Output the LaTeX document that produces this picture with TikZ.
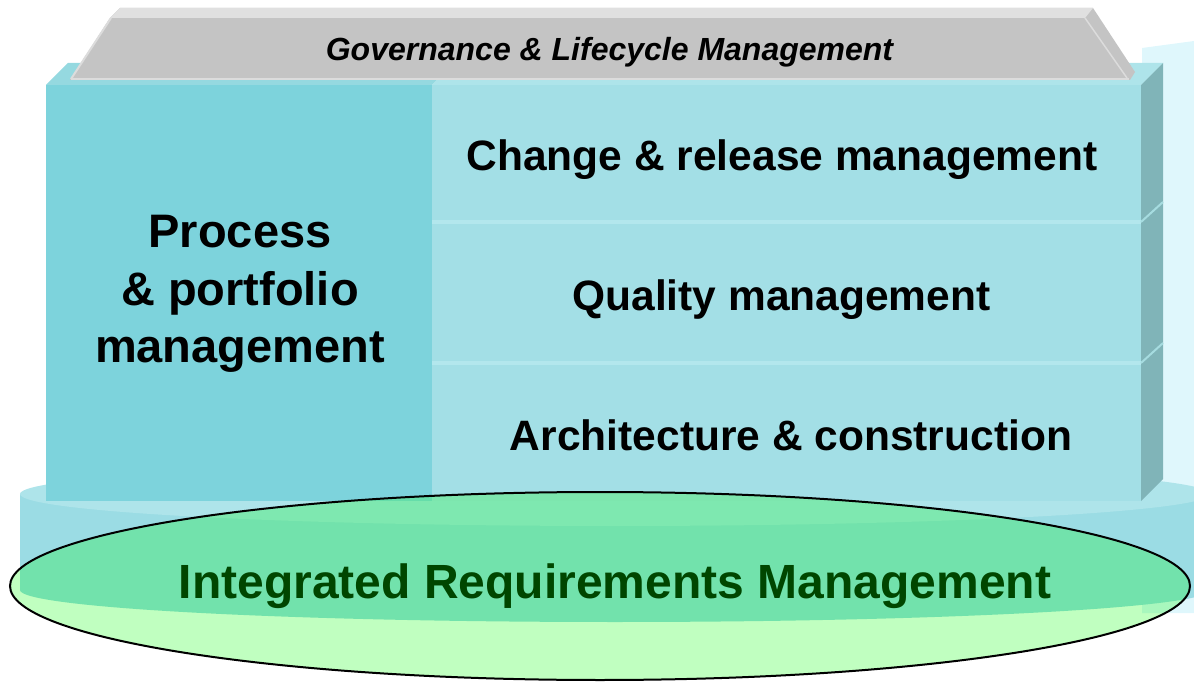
\documentclass[tikz,border=0pt]{standalone}
\usepackage{fontspec}
\setmainfont{Liberation Sans}
\definecolor{panel}{HTML}{DFF7FC}
\definecolor{cylside}{HTML}{9BDCE4}
\definecolor{cyltop}{HTML}{AEE4EA}
\definecolor{boxleft}{HTML}{7DD3DC}
\definecolor{boxright}{HTML}{A3DFE6}
\definecolor{bevelL}{HTML}{95D9E0}
\definecolor{bevelR}{HTML}{AEE4EA}
\definecolor{sideface}{HTML}{80B4B8}
\definecolor{sepc}{HTML}{B3E7ED}
\definecolor{sepd}{HTML}{A6DCE0}
\definecolor{greymain}{HTML}{C4C4C4}
\definecolor{greytop}{HTML}{E0E0E0}
\definecolor{greyhi}{HTML}{DCDCDC}
\definecolor{gwhite}{HTML}{C0FFC0}
\definecolor{gside}{HTML}{72E2AC}
\definecolor{gtop}{HTML}{7EE8B0}
\definecolor{gboxl}{HTML}{66DDAA}
\definecolor{gboxr}{HTML}{7DE6AE}
\definecolor{gpanel}{HTML}{A8F7BD}
\definecolor{irmtext}{HTML}{004600}
\begin{document}
\begin{tikzpicture}[x=1pt,y=-1pt,
  lbl/.style={inner sep=0pt, anchor=base, font=\bfseries\fontsize{42.5}{50}\selectfont},
  plbl/.style={inner sep=0pt, anchor=base, font=\bfseries\fontsize{47}{56}\selectfont},
  glbl/.style={inner sep=0pt, anchor=base, font=\bfseries\itshape\fontsize{32}{38}\selectfont},
  irmlbl/.style={inner sep=0pt, anchor=base, text=irmtext, font=\bfseries\fontsize{48}{56}\selectfont}]
\useasboundingbox (0,0) rectangle (1194,684);
% back panel
\fill[panel] (1142,48) -- (1194,41) -- (1194,613) -- (1142,613) -- cycle;
% base cylinder
\fill[cylside] (20,494) rectangle (1210,590);
\fill[cylside] (615,590) ellipse [x radius=595, y radius=32];
\fill[cyltop] (615,494) ellipse [x radius=595, y radius=32];
% main box
\fill[boxleft] (46,85) rectangle (432,501);
\fill[boxright] (432,85) rectangle (1141,501);
\fill[bevelL] (46,85) -- (68,63) -- (454,63) -- (432,85) -- cycle;
\fill[bevelR] (432,85) -- (454,63) -- (1163,63) -- (1141,85) -- cycle;
\fill[sideface] (1141,85) -- (1163,63) -- (1163,479) -- (1141,501) -- cycle;
\fill[sepc] (432,220) rectangle (1141,224);
\fill[sepc] (432,361) rectangle (1141,365);
\draw[sepd, line width=2pt] (1141,222) -- (1163,202);
\draw[sepd, line width=2pt] (1141,363) -- (1163,343);
% governance roof
\fill[greymain] (70,80) -- (110,18) -- (120,8) -- (1093,8) -- (1135,72) -- (1130,80) -- cycle;
\fill[greytop] (110,18) -- (120,8) -- (1093,8) -- (1085,18) -- cycle;
\draw[greyhi, line width=2pt] (71,79) -- (111,18);
\draw[greyhi, line width=2pt] (71,79) -- (1129,79);
\draw[greyhi, line width=1.5pt] (1085,18) -- (1127,78);
% texts in the box
\node[glbl] (gov) at (609.5,61) {Governance \& Lifecycle Management};
\node[lbl] (change) at (782,171) {Change \& release management};
\node[lbl] (quality) at (781.5,311) {Quality management};
\node[lbl] (arch) at (791,450) {Architecture \& construction};
\node[plbl] (proc1) at (240,248) {Process};
\node[plbl] (proc2) at (240,306) {\& portfolio};
\node[plbl] (proc3) at (240,363) {management};
% green requirements ellipse (multiplied look)
\begin{scope}
  \clip (600,586) ellipse [x radius=590, y radius=94];
  \fill[gwhite] (0,480) rectangle (1194,684);
  \fill[gpanel] (1142,48) -- (1194,41) -- (1194,613) -- (1142,613) -- cycle;
  \fill[gside] (20,494) rectangle (1210,590);
  \fill[gside] (615,590) ellipse [x radius=595, y radius=32];
  \fill[gtop] (615,494) ellipse [x radius=595, y radius=32];
  \fill[gboxl] (46,85) rectangle (432,501);
  \fill[gboxr] (432,85) rectangle (1141,501);
  \fill[gside] (1141,85) -- (1163,63) -- (1163,479) -- (1141,501) -- cycle;
\end{scope}
\draw[line width=2pt] (600,586) ellipse [x radius=590, y radius=94];
\node[irmlbl] (irm) at (615,598) {Integrated Requirements Management};
\end{tikzpicture}
\end{document}
